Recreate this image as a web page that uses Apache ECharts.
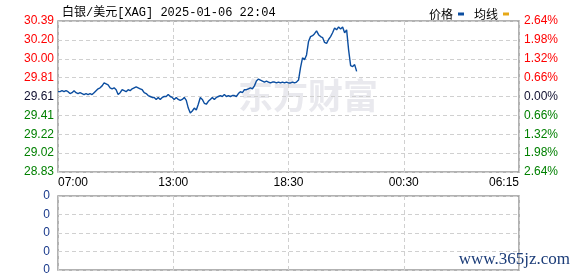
<!DOCTYPE html>
<html>
<head>
<meta charset="utf-8">
<script src="https://cdn.jsdelivr.net/npm/echarts@6/dist/echarts.min.js"></script>
<style>html,body{margin:0;padding:0;background:#fff;}#c{width:578px;height:276px;}</style>
</head>
<body>
<div id="c"></div>
<script>
// ---- data ----
const titleText = '白银/美元[XAG] 2025-01-06 22:04';
const xTickLabels = ['07:00', '13:00', '18:30', '00:30', '06:15'];
const prevClose = 29.61;
const sampleStep = 2; // slot spacing between samples
const prices = [
  29.66,29.66,29.67,29.66,29.67,29.66,29.64,29.65,29.67,29.65,
  29.64,29.65,29.64,29.63,29.64,29.63,29.64,29.63,29.65,29.67,
  29.69,29.70,29.72,29.75,29.74,29.73,29.70,29.69,29.70,29.68,
  29.63,29.65,29.68,29.67,29.66,29.68,29.67,29.69,29.70,29.71,
  29.70,29.69,29.68,29.65,29.64,29.62,29.61,29.60,29.60,29.58,
  29.60,29.58,29.60,29.61,29.61,29.63,29.61,29.60,29.58,29.60,
  29.58,29.57,29.58,29.60,29.57,29.49,29.44,29.46,29.49,29.47,
  29.53,29.60,29.58,29.54,29.53,29.56,29.58,29.60,29.58,29.60,
  29.61,29.62,29.61,29.63,29.61,29.62,29.61,29.62,29.62,29.61,
  29.64,29.66,29.65,29.68,29.68,29.69,29.70,29.69,29.72,29.77,
  29.79,29.78,29.77,29.76,29.77,29.76,29.75,29.76,29.76,29.75,
  29.76,29.75,29.76,29.75,29.76,29.75,29.75,29.76,29.75,29.76,
  29.78,29.91,30.01,29.99,30.04,30.18,30.23,30.24,30.26,30.29,
  30.25,30.23,30.22,30.17,30.16,30.20,30.23,30.27,30.32,30.30,
  30.33,30.31,30.33,30.27,30.30,30.09,29.93,29.92,29.94,29.87
];
const volumeTicks = [0, 1, 2, 3, 4];
// ---- build ----
const SCALE = 10000;               // price offset units
const yStep = 1954;                // 0.66% of prevClose in units
const priceData = prices.map((p, i) => [i * sampleStep, Math.round((p - prevClose) * SCALE)]);
const lastSlot = 460;
const xInterval = lastSlot / (xTickLabels.length - 1);

const chart = echarts.init(document.getElementById('c'), null, {renderer: 'canvas'});
const dashed = {show: true, lineStyle: {color: '#d0d0d0', type: [4, 3], width: 1}};
const baseFont = 'Liberation Sans, Arial, sans-serif';

chart.setOption({
  animation: false,
  backgroundColor: '#fff',
  title: {
    text: titleText, left: 57, top: 2,
    textStyle: {fontSize: 12, fontWeight: 'normal', color: '#000', fontFamily: 'Liberation Mono, Noto Sans CJK SC, monospace'}
  },
  legend: {
    right: 64, top: 3, align: 'right', icon: 'rect', itemWidth: 6, itemHeight: 3, itemGap: 10,
    textStyle: {fontSize: 12, color: '#000', fontFamily: 'Noto Sans CJK SC, sans-serif'},
    data: ['价格', '均线']
  },
  graphic: [
    {type: 'text', left: 238, top: 78, z: -10, silent: true,
     style: {text: '东方财富', fontSize: 35, fontWeight: 'bold', fill: '#e9e9ee', fontFamily: 'Noto Sans CJK SC, sans-serif'}},
    {type: 'text', right: 8, top: 251, z: 10, silent: true,
     style: {text: 'www.365jz.com', fontSize: 17, fill: '#1b3c78', fontFamily: 'Liberation Serif, DejaVu Serif, serif'}}
  ],
  grid: [
    {left: 58, right: 59, top: 21, bottom: 104, show: true, borderColor: '#999', borderWidth: 1.5, backgroundColor: 'transparent'},
    {left: 58, right: 59, top: 196, bottom: 6, show: true, borderColor: '#999', borderWidth: 1.5, backgroundColor: 'transparent'}
  ],
  xAxis: [
    {type: 'value', gridIndex: 0, min: 0, max: lastSlot, interval: xInterval,
     axisLine: {show: false}, axisTick: {show: false}, splitLine: dashed,
     axisLabel: {show: true, margin: 5, fontSize: 12, color: '#000', fontFamily: baseFont,
       alignMinLabel: 'left', alignMaxLabel: 'right',
       formatter: v => xTickLabels[Math.round(v / xInterval)] || ''}},
    {type: 'value', gridIndex: 1, min: 0, max: lastSlot, interval: xInterval,
     axisLine: {show: false}, axisTick: {show: false}, splitLine: dashed, axisLabel: {show: false}}
  ],
  yAxis: [
    {type: 'value', gridIndex: 0, min: -4 * yStep, max: 4 * yStep, interval: yStep,
     axisLine: {show: false}, axisTick: {show: false}, splitLine: dashed,
     axisLabel: {margin: 4, fontSize: 12, fontFamily: baseFont,
       formatter: v => (prevClose + v / SCALE).toFixed(2),
       color: v => v > 0 ? '#ff0000' : (v < 0 ? '#008000' : '#101030')}},
    {type: 'value', gridIndex: 0, position: 'right', min: -4 * yStep, max: 4 * yStep, interval: yStep,
     axisLine: {show: false}, axisTick: {show: false}, splitLine: {show: false},
     axisLabel: {margin: 5, fontSize: 12, fontFamily: baseFont,
       formatter: v => (Math.abs(v) / SCALE / prevClose * 100).toFixed(2) + '%',
       color: v => v > 0 ? '#ff0000' : (v < 0 ? '#008000' : '#101030')}},
    {type: 'value', gridIndex: 1, min: volumeTicks[0], max: volumeTicks[volumeTicks.length - 1], interval: 1,
     axisLine: {show: false}, axisTick: {show: false}, splitLine: dashed,
     axisLabel: {margin: 8, fontSize: 12, fontFamily: baseFont, color: '#1a3a8c', formatter: () => '0'}}
  ],
  series: [
    {name: '价格', type: 'line', xAxisIndex: 0, yAxisIndex: 0, data: priceData,
     showSymbol: false, symbol: 'none', color: '#0c4ea0', lineStyle: {width: 1.4, color: '#0c4ea0'}, z: 5},
    {name: '均线', type: 'line', xAxisIndex: 0, yAxisIndex: 0, data: [],
     showSymbol: false, color: '#e6a817', lineStyle: {width: 1, color: '#e6a817'}}
  ]
});
</script>
</body>
</html>
